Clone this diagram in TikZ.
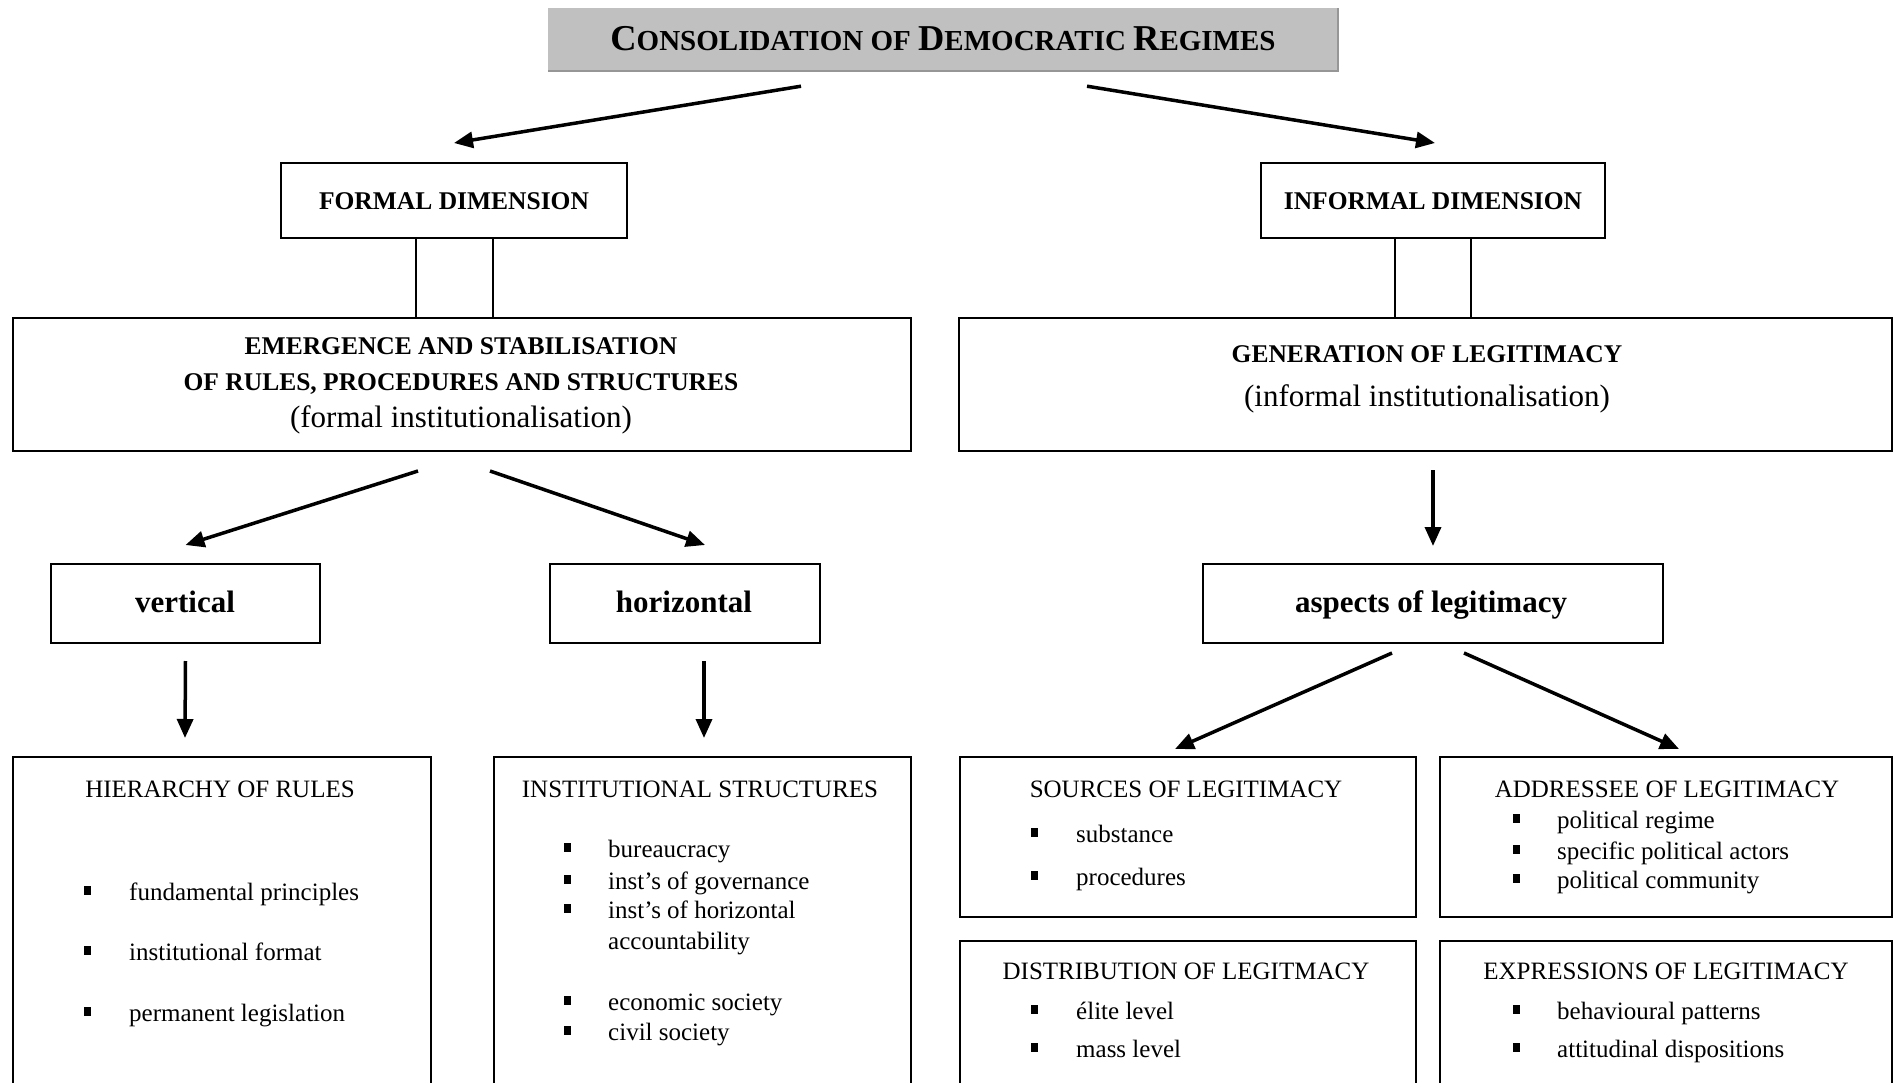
\documentclass[tikz,border=0pt]{standalone}
\usepackage{fontspec}
\setmainfont{Liberation Serif}
\usetikzlibrary{arrows.meta,calc}

\definecolor{titlegray}{RGB}{192,192,192}
\definecolor{titleedge}{RGB}{150,150,150}

\newcommand\bodysize{\fontsize{25}{30}\selectfont}
\newcommand\headsize{\fontsize{25.5}{30}\selectfont}
\newcommand\bigsize{\fontsize{31}{37}\selectfont}
\newcommand\scsize{\fontsize{29}{40}\selectfont}
% hand-made small capitals: first letter large, the rest smaller
\newcommand\fakesc[2]{{\fontsize{36.4}{40}\selectfont #1}#2}

\tikzset{
  box/.style={draw, line width=2pt, inner sep=0pt, rectangle},
  arr/.style={line width=3.5pt, -{Triangle[length=19pt,width=16pt]}},
  link/.style={line width=1.6pt},
  txt/.style={inner sep=0pt, font=\bodysize},
  head/.style={inner sep=0pt, font=\headsize\bfseries},
  paren/.style={inner sep=0pt, font=\bigsize},
  big/.style={inner sep=0pt, font=\bigsize\bfseries},
}

% bullet square plus its item text
\newcommand\bitem[5]{%
  \fill (#2,#4-14) rectangle ++(7,9);
  \node[txt, anchor=base west] (#1) at (#3,#4) {#5};}

\begin{document}
\begin{tikzpicture}[x=1pt, y=-1pt]
\clip (0,0) rectangle (1894,1083);
\fill[white] (0,0) rectangle (1894,1083);

% ---- top title ----
\node[rectangle, fill=titlegray, inner sep=0pt, minimum width=790, minimum height=63] (title) at (943,39.5) {};
\draw[titleedge, line width=1.5pt] (title.south west) -- (title.south east) -- (title.north east);
\node[inner sep=0pt, anchor=base, font=\scsize\bfseries] (titletext) at (943,51)
  {\fakesc{C}{ONSOLIDATION OF} \fakesc{D}{EMOCRATIC} \fakesc{R}{EGIMES}};

% ---- dimensions ----
\node[box, minimum width=346, minimum height=75] (formal) at (454,200.5) {};
\node[head, anchor=base] (formaltext) at (454,210) {FORMAL DIMENSION};
\node[box, minimum width=344, minimum height=75] (informal) at (1433,200.5) {};
\node[head, anchor=base] (informaltext) at (1433,210) {INFORMAL DIMENSION};

\node[box, minimum width=898, minimum height=133] (emerge) at (462,384.5) {};
\node[head, anchor=base] (emerge1) at (461,354) {EMERGENCE AND STABILISATION};
\node[head, anchor=base] (emerge2) at (461,390) {OF RULES, PROCEDURES AND STRUCTURES};
\node[paren, anchor=base] (emerge3) at (461,427) {(formal institutionalisation)};

\node[box, minimum width=933, minimum height=133] (gener) at (1425.5,384.5) {};
\node[head, anchor=base] (gener1) at (1427,362) {GENERATION OF LEGITIMACY};
\node[paren, anchor=base] (gener2) at (1427,406) {(informal institutionalisation)};

% ---- second level ----
\node[box, minimum width=269, minimum height=79] (vert) at (185.5,603.5) {};
\node[big, anchor=base] (verttext) at (185,612) {vertical};
\node[box, minimum width=270, minimum height=79] (horiz) at (685,603.5) {};
\node[big, anchor=base] (horiztext) at (684,612) {horizontal};
\node[box, minimum width=460, minimum height=79] (aspects) at (1433,603.5) {};
\node[big, anchor=base] (aspectstext) at (1431,612) {aspects of legitimacy};

% ---- bottom boxes ----
\node[box, minimum width=418, minimum height=343] (hier) at (222,928.5) {};
\node[txt, anchor=base] (hiertitle) at (220,797) {HIERARCHY OF RULES};
\bitem{h1}{84}{129}{900}{fundamental principles}
\bitem{h2}{84}{129}{960}{institutional format}
\bitem{h3}{84}{129}{1021}{permanent legislation}

\node[box, minimum width=417, minimum height=343] (inst) at (702.5,928.5) {};
\node[txt, anchor=base] (insttitle) at (700,797) {INSTITUTIONAL STRUCTURES};
\bitem{i1}{564}{608}{857}{bureaucracy}
\bitem{i2}{564}{608}{889}{inst’s of governance}
\bitem{i3}{564}{608}{918}{inst’s of horizontal}
\node[txt, anchor=base west] (i3b) at (608,949) {accountability};
\bitem{i4}{564}{608}{1010}{economic society}
\bitem{i5}{564}{608}{1040}{civil society}

\node[box, minimum width=456, minimum height=160] (sources) at (1188,837) {};
\node[txt, anchor=base] (sourcestitle) at (1186,797) {SOURCES OF LEGITIMACY};
\bitem{s1}{1031}{1076}{842}{substance}
\bitem{s2}{1031}{1076}{885}{procedures}

\node[box, minimum width=452, minimum height=160] (addr) at (1666,837) {};
\node[txt, anchor=base] (addrtitle) at (1667,797) {ADDRESSEE OF LEGITIMACY};
\bitem{a1}{1513}{1557}{828}{political regime}
\bitem{a2}{1513}{1557}{859}{specific political actors}
\bitem{a3}{1513}{1557}{888}{political community}

\node[box, minimum width=456, minimum height=160] (distr) at (1188,1021) {};
\node[txt, anchor=base] (distrtitle) at (1186,979) {DISTRIBUTION OF LEGITMACY};
\bitem{d1}{1031}{1076}{1019}{élite level}
\bitem{d2}{1031}{1076}{1057}{mass level}

\node[box, minimum width=452, minimum height=160] (expr) at (1666,1021) {};
\node[txt, anchor=base] (exprtitle) at (1666,979) {EXPRESSIONS OF LEGITIMACY};
\bitem{e1}{1513}{1557}{1019}{behavioural patterns}
\bitem{e2}{1513}{1557}{1057}{attitudinal dispositions}

% ---- connectors ----
\draw[arr] ([xshift=-142pt,yshift=-15pt]title.south) -- ([yshift=19pt]formal.north);
\draw[arr] ([xshift=144pt,yshift=-15pt]title.south) -- ([xshift=2pt,yshift=19pt]informal.north);

\draw[link] ([xshift=-38pt]formal.south) -- ([xshift=-38pt]formal.south |- emerge.north);
\draw[link] ([xshift=39pt]formal.south) -- ([xshift=39pt]formal.south |- emerge.north);
\draw[link] ([xshift=-38pt]informal.south) -- ([xshift=-38pt]informal.south |- gener.north);
\draw[link] ([xshift=38pt]informal.south) -- ([xshift=38pt]informal.south |- gener.north);

\draw[arr] ([xshift=-44pt,yshift=-19pt]emerge.south) -- ([yshift=18pt]vert.north);
\draw[arr] ([xshift=28pt,yshift=-19pt]emerge.south) -- ([xshift=20pt,yshift=18pt]horiz.north);
\draw[arr] ([xshift=7.5pt,yshift=-18pt]gener.south) -- ([yshift=17pt]aspects.north);

\draw[arr] ([yshift=-17pt]vert.south) -- ([xshift=-37pt,yshift=18pt]hier.north);
\draw[arr] ([xshift=19pt,yshift=-17pt]horiz.south) -- ([xshift=1.5pt,yshift=18pt]inst.north);
\draw[arr] ([xshift=-41pt,yshift=-9pt]aspects.south) -- ([xshift=-13pt,yshift=7pt]sources.north);
\draw[arr] ([xshift=31pt,yshift=-9pt]aspects.south) -- ([xshift=13pt,yshift=7pt]addr.north);
\end{tikzpicture}
\end{document}
